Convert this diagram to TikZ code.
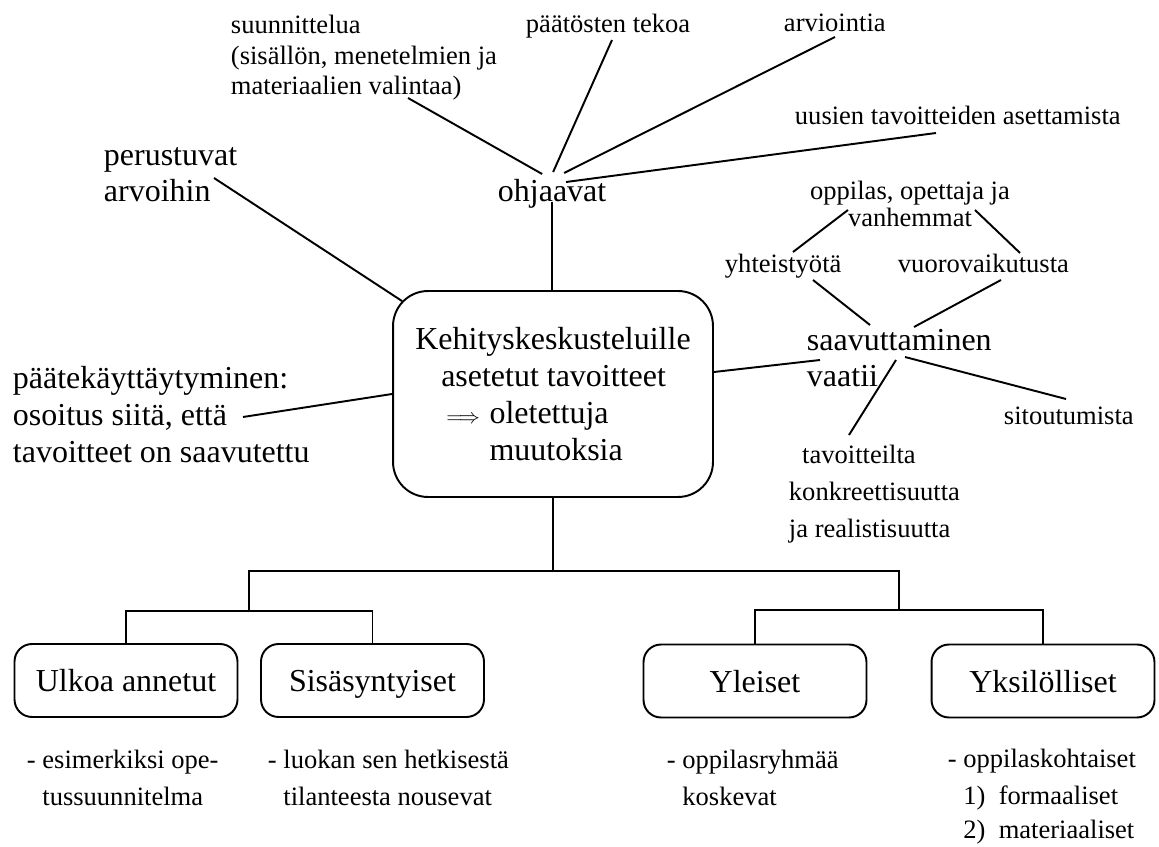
\documentclass[tikz,border=0pt]{standalone}
\usepackage{fontspec}
\setmainfont{Liberation Serif}
\usetikzlibrary{calc}

\newcommand{\bigtext}{\fontsize{18.2}{21}\selectfont}
\newcommand{\smalltext}{\fontsize{15.1}{17.6}\selectfont}
\newcommand{\goalarrow}{{\fontsize{13}{15}\selectfont$\Longrightarrow$}\hspace{0.3em}}

\begin{document}
\begin{tikzpicture}[x=0.02cm, y=-0.02cm, line width=1.1pt,
	note/.style={inner sep=0pt, align=left, font=\smalltext},
	listnote/.style={inner sep=0pt, align=left, font=\fontsize{15.1}{21}\selectfont},
	bignote/.style={inner sep=0pt, align=left, font=\bigtext},
	goalbox/.style={draw, rounded corners=0.7cm, minimum width=6.4cm, minimum height=4.12cm, align=left, font=\bigtext},
	typebox/.style={draw, rounded corners=0.35cm, minimum width=4.46cm, minimum height=1.46cm, text height=12.7pt, text depth=0pt, font=\bigtext}]
	\useasboundingbox (0,0) rectangle (1159,847);

	% what the goals steer (multi-line nodes sit on their last line)
	\node[note, anchor=base west] (suun) at (230,95) {suunnittelua\\(sisällön, menetelmien ja\\materiaalien valintaa)};
	\node[note, anchor=base west] (paat) at (525,33) {päätösten tekoa};
	\node[note, anchor=base west] (arvi) at (783,32) {arviointia};
	\node[note, anchor=base west] (uusi) at (794,125) {uusien tavoitteiden asettamista};
	\node[bignote, anchor=base west] (ohj) at (497,202) {ohjaavat};

	\node[bignote, anchor=base west] (peru) at (103,202) {perustuvat\\arvoihin};
	\node[bignote, anchor=base west] (paate) at (12,462) {päätekäyttäytyminen:\\osoitus siitä, että\\tavoitteet on saavutettu};

	% the goal box
	\node[goalbox] (goal) at (553,394) {Kehityskeskusteluille\\\hspace*{0.81em}asetetut tavoitteet\\\hspace*{0.97em}\goalarrow oletettuja\\\hspace*{0.97em}\hphantom{\goalarrow}muutoksia};

	% what reaching them needs
	\node[bignote, anchor=base west] (saav) at (806,387) {saavuttaminen\\vaatii};
	\node[note, anchor=base, align=center, font=\fontsize{15.1}{15.4}\selectfont] (oppi) at (910,227) {oppilas, opettaja ja\\vanhemmat};
	\node[note, anchor=base west] (yht) at (724,273) {yhteistyötä};
	\node[note, anchor=base west] (vuor) at (897,273) {vuorovaikutusta};
	\node[note, anchor=base west] (sito) at (1003,425) {sitoutumista};
	\node[listnote, anchor=base west] (konk) at (788,537) {\hspace*{0.5em}tavoitteilta\\konkreettisuutta\\ja realistisuutta};

	% lines to ohjaavat
	\draw ([shift={(178,3)}]suun.base west) -- ([shift={(-10,-28)}]ohj.base);
	\draw ([shift={(87,7)}]paat.base west) -- ([shift={(1,-30)}]ohj.base);
	\draw ([shift={(52,5)}]arvi.base west) -- ([shift={(12,-29)}]ohj.base);
	\draw ([shift={(142,8)}]uusi.base west) -- ([shift={(14,-20)}]ohj.base);
	\draw (ohj.base) -- (ohj.base |- goal.north);

	% lines to the goal box
	\draw ([shift={(111,-24)}]peru.base west) -- ([shift={(10,11)}]goal.north west);
	\draw ([shift={(231,-45)}]paate.base west) -- (goal.west);
	\draw ([shift={(0,-22)}]goal.east) -- ([shift={(14,-27)}]saav.base west);

	% the star round saavuttaminen
	\draw ([shift={(-62,-17)}]oppi.base) -- ([shift={(69,-21)}]yht.base west);
	\draw ([shift={(65,-17)}]oppi.base) -- ([shift={(123,-20)}]vuor.base west);
	\draw ([shift={(89,7)}]yht.base west) -- ([shift={(64,-62)}]saav.base west);
	\draw ([shift={(104,7)}]vuor.base west) -- ([shift={(108,-60)}]saav.base west);
	\draw ([shift={(90,-27)}]saav.base west) -- ([shift={(61,-102)}]konk.base west);
	\draw ([shift={(99,-30)}]saav.base west) -- ([shift={(63,-26)}]sito.base west);

	% the four kinds of goals
	\node[typebox] (ulk) at (126,680.5) {Ulkoa annetut};
	\node[typebox] (sis) at (372.5,680.5) {Sisäsyntyiset};
	\node[typebox] (yle) at (755,681) {Yleiset};
	\node[typebox] (yks) at (1043,681) {Yksilölliset};

	\node[listnote, anchor=base west] (ulkx) at (26,805) {- esimerkiksi ope-\\\phantom{- }tussuunnitelma};
	\node[listnote, anchor=base west] (sisx) at (267,805) {- luokan sen hetkisestä\\\phantom{- }tilanteesta nousevat};
	\node[listnote, anchor=base west] (ylex) at (666,805) {- oppilasryhmää\\\phantom{- }koskevat};
	\node[listnote, anchor=base west] (yksx) at (947,838) {- oppilaskohtaiset\\\phantom{- }1)\enspace formaaliset\\[-2pt]\phantom{- }2)\enspace materiaaliset};

	% the tree below the goal box
	\draw (ulk.north) -- ++(0,-32) -| (sis.north);
	\draw (yle.north) -- ++(0,-34) -| (yks.north);
	\coordinate (lfork) at ($(ulk.north)!0.5!(sis.north)+(0,-32)$);
	\coordinate (rfork) at ($(yle.north)!0.5!(yks.north)+(0,-34)$);
	\draw (lfork) -- ++(0,-40) coordinate (ltop) -| (rfork);
	\draw (goal.south) -- (goal.south |- ltop);
\end{tikzpicture}
\end{document}
